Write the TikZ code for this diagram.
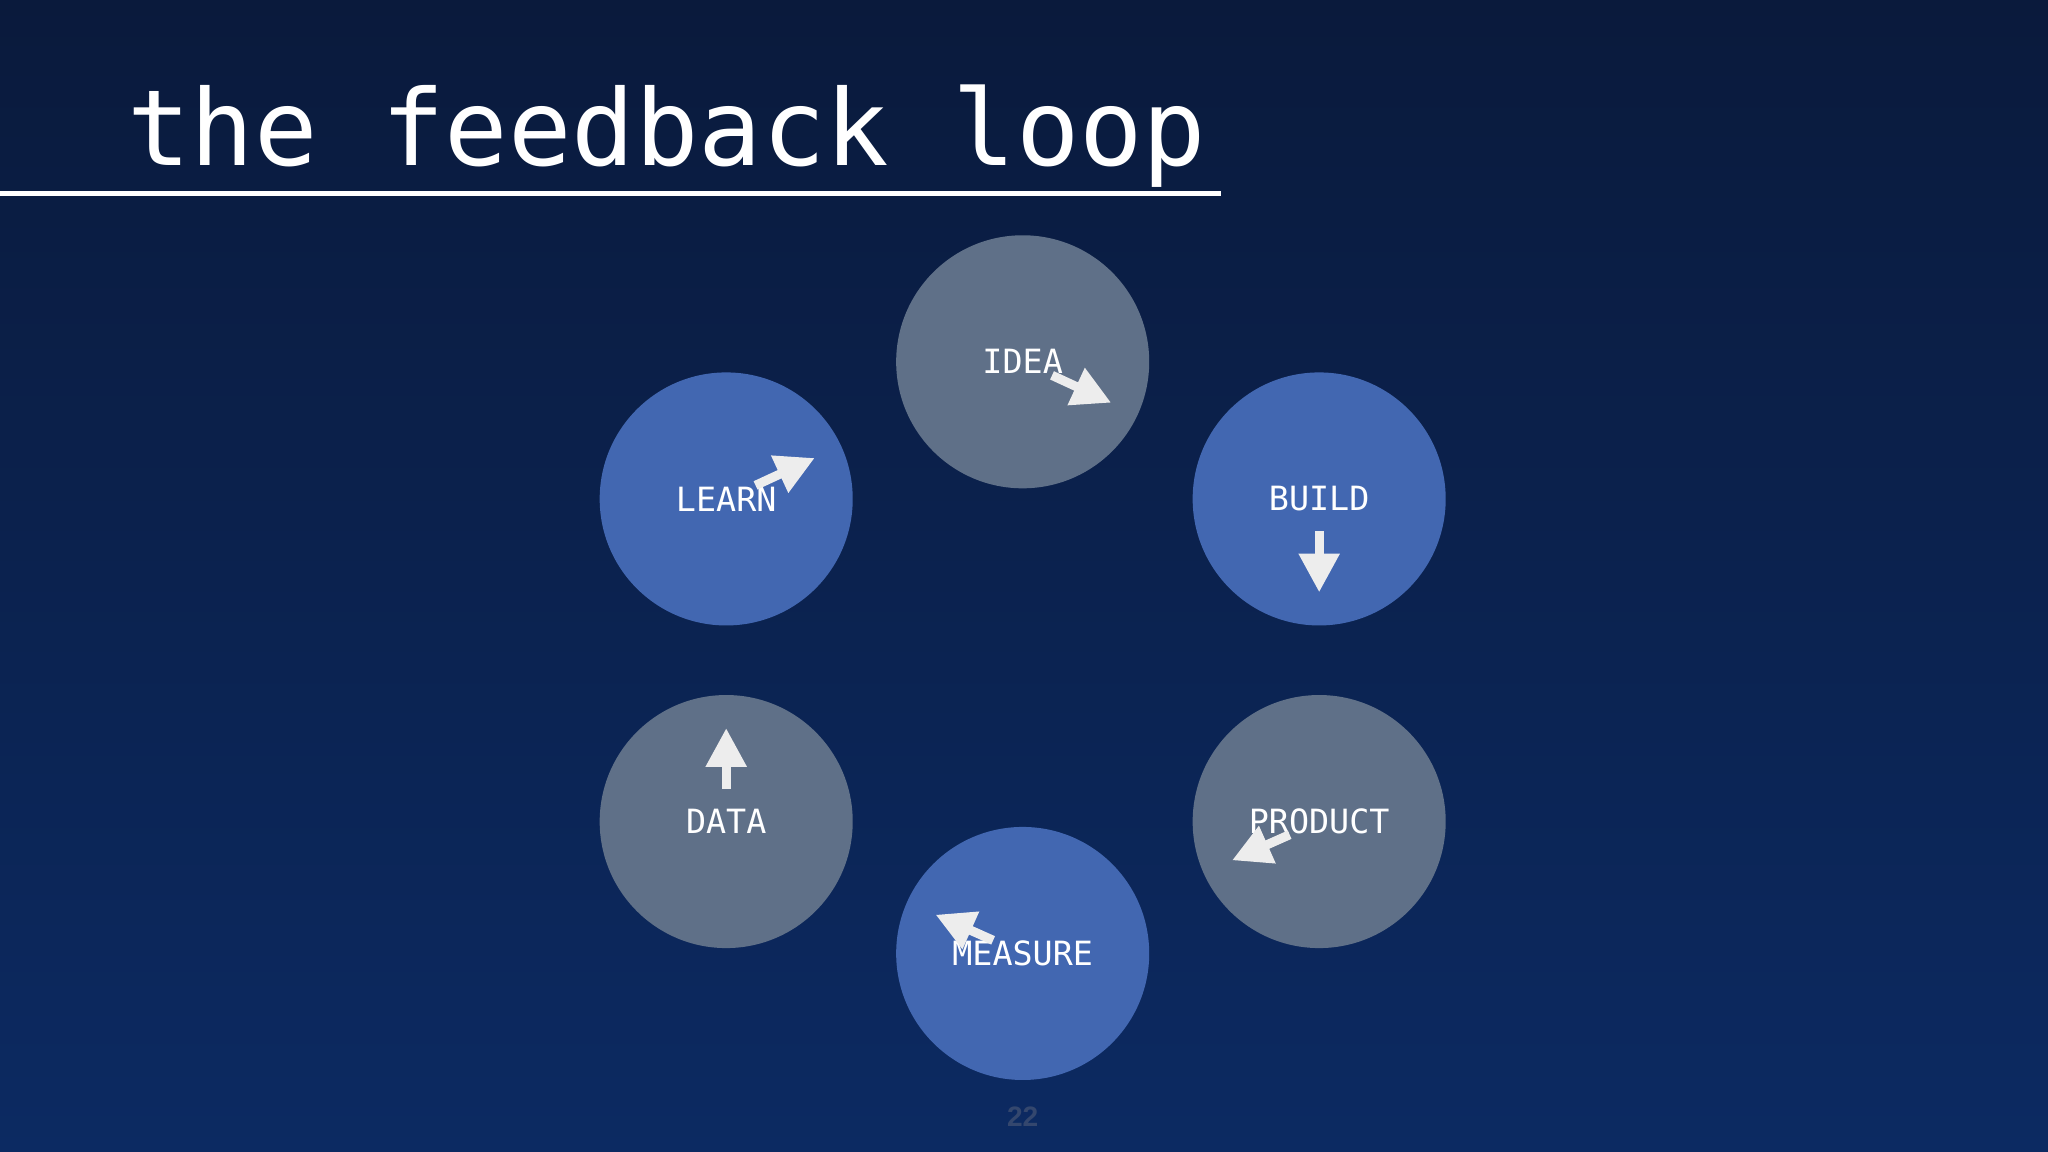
\documentclass[tikz,border=0pt]{standalone}
\usepackage{fontspec}
\setmainfont{DejaVu Sans Mono}
\newfontfamily\numfont{Liberation Sans}
\usetikzlibrary{arrows.meta}
\definecolor{bgtop}{HTML}{0A1A3C}
\definecolor{bgbot}{HTML}{0C2A62}
\definecolor{stepblue}{HTML}{4267B1}
\definecolor{stepgrey}{HTML}{5F7088}
\definecolor{pagegrey}{HTML}{34476E}
\tikzset{
  stage/.style={circle, minimum size=72pt, inner sep=0pt, text=white,
    font=\fontsize{9.5}{11}\selectfont},
  build/.style={stage, fill=stepblue},
  thing/.style={stage, fill=stepgrey},
  flow/.style={draw=white!93!black, line width=2.6pt,
    -{Triangle[length=11pt,width=11pt]}, shorten <=27pt, shorten >=29pt}
}
\begin{document}
\begin{tikzpicture}[x=0.013061cm, y=-0.013061cm]
    \shade[top color=bgtop, bottom color=bgbot] (0,0) rectangle (1568,882);
    \useasboundingbox (0,0) rectangle (1568,882);
    % title
    \node[anchor=base west, text=white, inner sep=0pt,
      font=\fontsize{30}{36}\selectfont] (title) at (97,127) {the feedback loop};
    \draw[white, line width=1.5pt] (0,148) -- (935,148);
    % stages
    \node[thing] (idea) at (783,277) {IDEA};
    \node[build] (build) at (1010,382) {BUILD};
    \node[thing] (product) at (1010,629) {PRODUCT};
    \node[build] (measure) at (783,730) {MEASURE};
    \node[thing] (data) at (556,629) {DATA};
    \node[build] (learn) at (556,382) {LEARN};
    % loop
    \foreach \a/\b in {learn/idea, idea/build, build/product,
                       product/measure, measure/data, data/learn}
        \draw[flow] (\a) -- (\b);
    \node[text=pagegrey, font=\numfont\bfseries\fontsize{8}{10}\selectfont] (page) at (783,855) {22};
\end{tikzpicture}
\end{document}
